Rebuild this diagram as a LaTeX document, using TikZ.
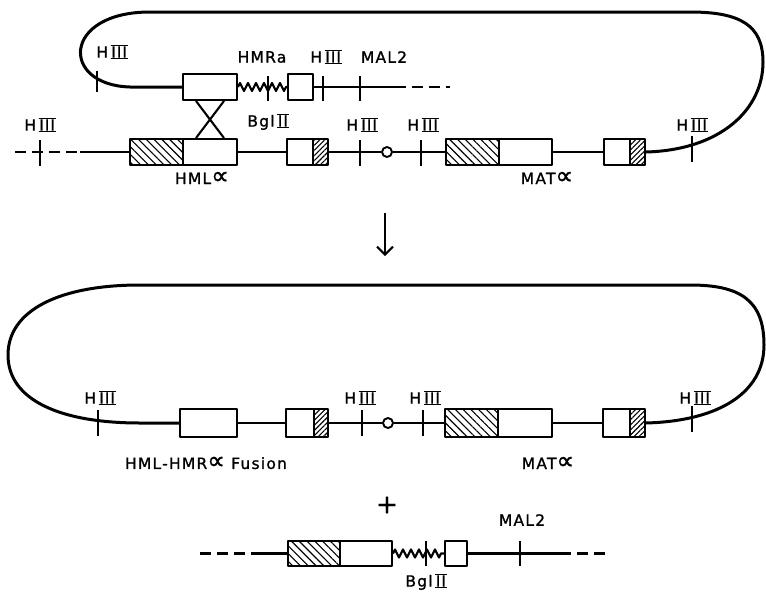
\documentclass[tikz,border=0pt]{standalone}
\usepackage{fontspec}
\setmainfont{DejaVu Sans}[LetterSpace=8, FakeBold=1.2]
\usetikzlibrary{patterns.meta,decorations.pathmorphing,arrows.meta}

% roman numerals with bars, as lettered in the figure
\newcommand\barnum[1]{\raisebox{-1.2pt}{\vbox{\hrule height 1.2pt\hbox{\kern0.6pt#1\kern0.6pt}\hrule height 1.2pt}}}
\newcommand\hthree{H\,\barnum{I\kern1pt I\kern1pt I}}
\newcommand\bgltwo{Bgl\,\barnum{I\kern1pt I}}
\newcommand\alf{\scalebox{1.6}{∝}}

\begin{document}
\begin{tikzpicture}[
  x=1pt,
  y=-1pt,
  line join=round,
  strand/.style={draw=black, line width=2.6},
  loopline/.style={draw=black, line width=3},
  gene/.style={draw=black, line width=2, fill=white, inner sep=0, minimum height=26},
  hatchbig/.style={gene, pattern={Lines[angle=-45, distance=5.5pt, line width=1.1pt]}},
  hatchsmall/.style={gene, pattern={Lines[angle=45, distance=3.6pt, line width=1.1pt]}},
  site/.style={draw=black, line width=2.1},
  spring/.style={strand, line width=2.2, decorate, decoration={zigzag, segment length=8, amplitude=4}},
  broken/.style={strand, dash pattern=on 11 off 6},
  ori/.style={circle, draw=black, line width=1.9, fill=white, minimum size=10, inner sep=0},
  lbl/.style={font=\fontsize{15.5}{17}\selectfont, inner sep=0}
]
\path[use as bounding box] (0,0) rectangle (766,592);
\fill[white] (0,0) rectangle (766,592);

% Upper strand (HMRa plasmid piece)
\node[gene, minimum width=54] (hmra) at (210,87) {};
\node[gene, minimum width=25] (hmrb) at (300.5,87) {};
\coordinate (mal2end) at (395,87);
\coordinate (mal2dash) at (450,87);

% Lower strand (chromosome)
\coordinate (chrL) at (15,152);
\coordinate (chrLs) at (80,152);
\node[hatchbig, minimum width=53] (hmlh) at (156.5,152) {};
\node[gene, minimum width=54] (hmlw) at (210,152) {};
\node[gene, minimum width=26] (hmlb) at (300,152) {};
\node[hatchsmall, minimum width=15] (hmlc) at (320.5,152) {};
\node[ori] (cen1) at (387,152) {};
\node[hatchbig, minimum width=53] (math) at (472.5,152) {};
\node[gene, minimum width=53] (matw) at (525.5,152) {};
\node[gene, minimum width=26] (matb) at (617,152) {};
\node[hatchsmall, minimum width=15] (matc) at (637.5,152) {};

% Top loop and strands
\draw[loopline] (hmra.west) -- (130,87) .. controls (60,85) and (62,12) .. (150,12)
  -- (690,12) .. controls (740,12) and (763,25) .. (763,62)
  .. controls (763,110) and (720,150) .. (matc.east);
\draw[spring] (hmra.east) -- (hmrb.west);
\draw[strand] (hmrb.east) -- (mal2end);
\draw[broken] (mal2end) -- (mal2dash);
\draw[broken] (chrL) -- (chrLs);
\draw[strand] (chrLs) -- (hmlh.west);
\draw[strand] (hmlw.east) -- (hmlb.west);
\draw[strand] (hmlc.east) -- (cen1.west);
\draw[strand] (cen1.east) -- (math.west);
\draw[strand] (matw.east) -- (matb.west);
\draw[site] ([xshift=-14]hmra.south) -- ([xshift=14]hmlw.north);
\draw[site] ([xshift=14]hmra.south) -- ([xshift=-14]hmlw.north);

% Sites
\draw[site] (97,71) -- (97,92);
\draw[site] (268,76) -- (268,101);
\draw[site] (323,76) -- (323,101);
\draw[site] (360,76) -- (360,101);
\draw[site] (40,140) -- (40,166);
\draw[site] (360,140) -- (360,166);
\draw[site] (421,140) -- (421,166);
\draw[site] (692,136) -- (692,162);

% Labels, top part
\node[lbl] at (112,52) {\hthree};
\node[lbl] at (262,57) {HMRa};
\node[lbl] at (326,57) {\hthree};
\node[lbl] at (384,57) {MAL2};
\node[lbl] at (268,122) {\bgltwo};
\node[lbl] at (40,125) {\hthree};
\node[lbl] at (362,125) {\hthree};
\node[lbl] at (423,125) {\hthree};
\node[lbl] at (692,125) {\hthree};
\node[lbl] at (202,178) {HML\alf};
\node[lbl] at (547,178) {MAT\alf};

% Arrow
\coordinate (arrtop) at (385,213);
\coordinate (arrbot) at (385,256);
\draw[line width=2, -{Straight Barb[length=8,width=16,line width=2]}] (arrtop) -- (arrbot);

% Bottom loop
\node[gene, minimum width=57, minimum height=28] (fus) at (208.5,423) {};
\node[gene, minimum width=28, minimum height=28] (fusb) at (300,423) {};
\node[hatchsmall, minimum width=14, minimum height=28] (fusc) at (321,423) {};
\node[ori] (cen2) at (388,423) {};
\node[hatchbig, minimum width=53, minimum height=28] (mat2h) at (471.5,423) {};
\node[gene, minimum width=54, minimum height=28] (mat2w) at (525,423) {};
\node[gene, minimum width=27, minimum height=28] (mat2b) at (616.5,423) {};
\node[hatchsmall, minimum width=15, minimum height=28] (mat2c) at (637.5,423) {};

\draw[loopline] (fus.west) -- (140,423) .. controls (60,423) and (8,400) .. (8,355)
  .. controls (8,310) and (60,285) .. (140,285) -- (690,285)
  .. controls (740,285) and (764,300) .. (764,345)
  .. controls (764,392) and (720,421) .. (mat2c.east);
\draw[strand] (fus.east) -- (fusb.west);
\draw[strand] (fusc.east) -- (cen2.west);
\draw[strand] (cen2.east) -- (mat2h.west);
\draw[strand] (mat2w.east) -- (mat2b.west);

\draw[site] (98,410) -- (98,436);
\draw[site] (362,410) -- (362,436);
\draw[site] (423,410) -- (423,436);
\draw[site] (692,406) -- (692,432);

\node[lbl] at (100,398) {\hthree};
\node[lbl] at (360,398) {\hthree};
\node[lbl] at (425,398) {\hthree};
\node[lbl] at (695,398) {\hthree};
\node[lbl] at (206,463) {HML-HMR\alf\ Fusion};
\node[lbl] at (548,463) {MAT\alf};

% Excised piece
\node[font=\fontsize{26}{28}\selectfont, inner sep=0] (plus) at (387,505) {+};
\coordinate (frL) at (200,553.5);
\coordinate (frLs) at (262,553.5);
\node[hatchbig, minimum width=52, minimum height=25] (frh) at (314,553.5) {};
\node[gene, minimum width=52, minimum height=25] (frw) at (366,553.5) {};
\node[gene, minimum width=22, minimum height=25] (frb) at (456,553.5) {};
\coordinate (frR) at (560,553.5);
\coordinate (frRd) at (608,553.5);
\draw[broken] (frL) -- (frLs);
\draw[strand] (frLs) -- (frh.west);
\draw[spring] (frw.east) -- (frb.west);
\draw[strand] (frb.east) -- (frR);
\draw[broken] (frR) -- (frRd);
\draw[site] (426,541) -- (426,566);
\draw[site] (520,541) -- (520,566);
\node[lbl] at (522,520) {MAL2};
\node[lbl] at (426,582) {\bgltwo};

\end{tikzpicture}
\end{document}
